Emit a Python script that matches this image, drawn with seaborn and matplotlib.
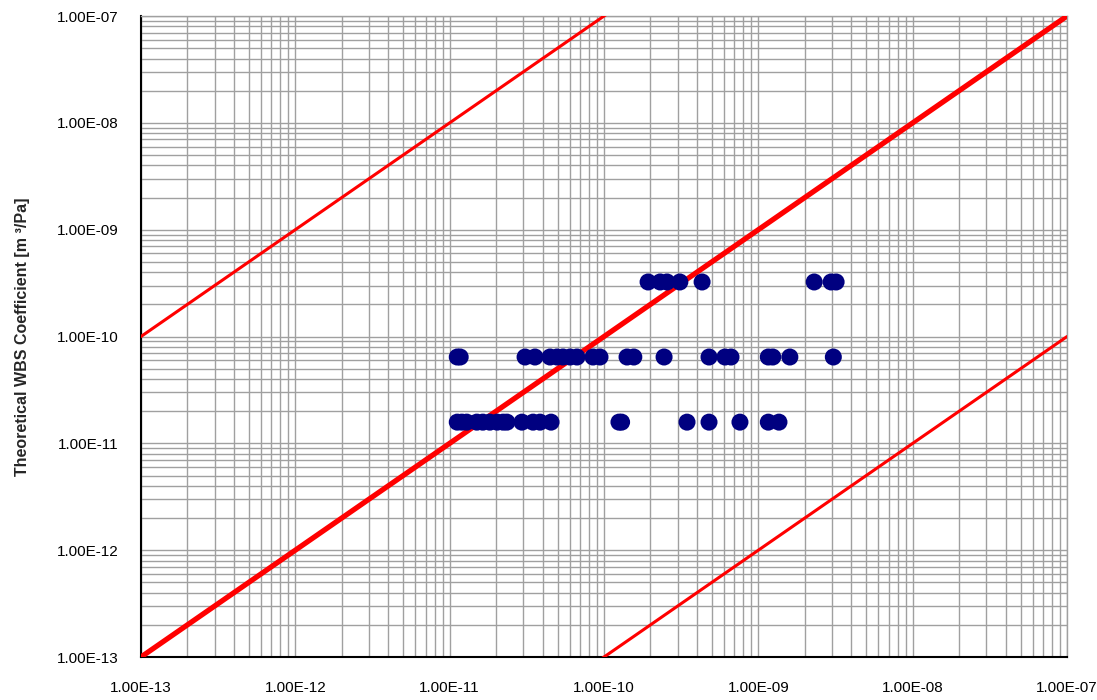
import numpy as np
import pandas as pd
import matplotlib
matplotlib.use("Agg")
import matplotlib.pyplot as plt
import matplotlib.ticker as mticker
import seaborn as sns

# measured vs theoretical WBS coefficient, three theoretical levels
upper_y = 3.24e-10
upper_x = [1.93e-10, 2.31e-10, 2.56e-10, 3.10e-10, 4.32e-10, 2.30e-9, 2.96e-9, 3.19e-9]

middle_y = 6.43e-11
middle_x = [1.12e-11, 1.17e-11, 3.08e-11, 3.57e-11, 4.47e-11, 4.96e-11, 5.42e-11,
            6.03e-11, 6.68e-11, 8.49e-11, 9.42e-11, 1.41e-10, 1.56e-10, 2.45e-10,
            4.79e-10, 6.08e-10, 6.65e-10, 1.16e-9, 1.24e-9, 1.60e-9, 3.06e-9]

lower_y = 1.58e-11
lower_x = [1.12e-11, 1.20e-11, 1.29e-11, 1.50e-11, 1.64e-11, 1.82e-11, 2.03e-11,
           2.22e-11, 2.35e-11, 2.94e-11, 3.47e-11, 3.85e-11, 4.54e-11, 1.25e-10,
           1.30e-10, 3.45e-10, 4.79e-10, 7.60e-10, 1.16e-9, 1.36e-9]

# reference lines y = factor * x
line_factors = [1e3, 1.0, 1e-3]
line_widths = [2.2, 3.8, 2.2]
axis_range = [1e-13, 1e-7]

df = pd.DataFrame({
    "measured": upper_x + middle_x + lower_x,
    "theoretical": [upper_y] * len(upper_x) + [middle_y] * len(middle_x) + [lower_y] * len(lower_x),
})

sns.set_style("white")
plt.rcParams["font.family"] = ["Liberation Sans", "DejaVu Sans"]

fig = plt.figure(figsize=(10.97, 7.0), dpi=100)
ax = fig.add_axes([0.1285, 0.0614, 0.8442, 0.9157])
ax.set_xscale("log")
ax.set_yscale("log")

for f, lw in zip(line_factors, line_widths):
    xs = np.array(axis_range)
    sns.lineplot(x=xs, y=xs * f, ax=ax, color="#ff0000", linewidth=lw, zorder=3)

sns.scatterplot(data=df, x="measured", y="theoretical", ax=ax, color="#000080",
                s=150, edgecolor="none", zorder=4, clip_on=False)

ax.set_xlim(axis_range)
ax.set_ylim(axis_range)

ax.xaxis.set_major_locator(mticker.LogLocator(base=10, numticks=10))
ax.yaxis.set_major_locator(mticker.LogLocator(base=10, numticks=10))
ax.xaxis.set_minor_locator(mticker.LogLocator(base=10, subs=np.arange(2, 10), numticks=20))
ax.yaxis.set_minor_locator(mticker.LogLocator(base=10, subs=np.arange(2, 10), numticks=20))
fmt = mticker.FuncFormatter(lambda v, p: f"{v:.2E}")
ax.xaxis.set_major_formatter(fmt)
ax.yaxis.set_major_formatter(fmt)
ax.xaxis.set_minor_formatter(mticker.NullFormatter())
ax.yaxis.set_minor_formatter(mticker.NullFormatter())

ax.grid(True, which="both", color="#a0a0a0", linewidth=1.0)
ax.set_axisbelow(True)
ax.tick_params(axis="both", which="major", direction="out", length=4, width=1,
               color="#404040", labelsize=11, labelcolor="black")
ax.tick_params(axis="y", which="major", pad=12)
ax.tick_params(axis="x", which="major", pad=13)
ax.tick_params(axis="both", which="minor", length=0)

for side in ["left", "bottom"]:
    ax.spines[side].set_color("black")
    ax.spines[side].set_linewidth(1.5)
for side in ["top", "right"]:
    ax.spines[side].set_color("#a0a0a0")
    ax.spines[side].set_linewidth(1.0)

ax.set_xlabel("")
ax.set_ylabel("Theoretical WBS Coefficient [m \u00b3/Pa]", fontsize=11.5,
              fontweight="bold")
ax.yaxis.set_label_coords(-0.12, 0.5)

fig.savefig("out.png", dpi=100)
